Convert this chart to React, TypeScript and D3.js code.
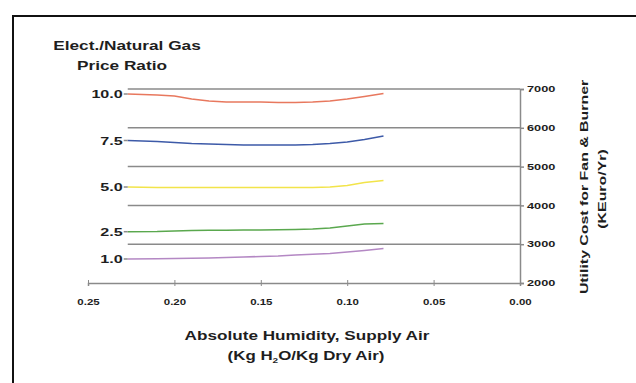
import React, { useEffect, useRef } from "react";
import * as d3 from "d3";

// absolute humidity (kg H2O / kg dry air)
const humidity = [0.227, 0.21, 0.2, 0.19, 0.18, 0.17, 0.16, 0.15, 0.14, 0.13, 0.12, 0.11, 0.1, 0.09, 0.079];

const ratioLabels = ["10.0", "7.5", "5.0", "2.5", "1.0"];
const seriesColors = ["#e8785e", "#3d5aa8", "#f2e44a", "#5aa84e", "#b488c4"];

// utility cost (KEuro/Yr) for each price ratio
const cost100 = [6871, 6845, 6820, 6742, 6691, 6665, 6665, 6665, 6652, 6652, 6665, 6691, 6742, 6807, 6884];
const cost75 = [5673, 5647, 5621, 5595, 5582, 5570, 5557, 5557, 5557, 5557, 5570, 5595, 5634, 5698, 5789];
const cost50 = [4474, 4461, 4461, 4461, 4461, 4461, 4461, 4461, 4461, 4461, 4461, 4474, 4513, 4590, 4642];
const cost25 = [3322, 3327, 3340, 3353, 3358, 3361, 3366, 3366, 3371, 3379, 3392, 3418, 3469, 3521, 3534];
const cost10 = [2619, 2624, 2631, 2637, 2644, 2657, 2670, 2683, 2696, 2722, 2740, 2760, 2799, 2838, 2889];

const xTicks = [0.25, 0.2, 0.15, 0.1, 0.05, 0];
const yTicks = [2000, 3000, 4000, 5000, 6000, 7000];
const gridValues = [3000, 4000, 5000, 6000, 7000];

const App = () => {
  const ref = useRef<SVGSVGElement>(null);

  useEffect(() => {
    const svg = d3.select(ref.current);
    svg.selectAll("*").remove();

    const width = 636;
    const height = 383;
    const font = "Liberation Sans, Arial, sans-serif";
    const ink = "#1e1e1e";

    svg.attr("width", width).attr("height", height);

    // the original lettering is wide and heavy, so stretch text to its measured width
    const stretch = (sel: any, factor: number) =>
      sel.each(function (this: SVGTextElement) {
        const w = this.getComputedTextLength();
        d3.select(this).attr("textLength", w * factor).attr("lengthAdjust", "spacingAndGlyphs");
      });

    const x = d3.scaleLinear().domain([0.25, 0]).range([88, 520]);
    const y = d3.scaleLinear().domain([2000, 7000]).range([283, 89]);

    // outer frame
    svg
      .append("rect")
      .attr("x", 13)
      .attr("y", 16)
      .attr("width", 700)
      .attr("height", 500)
      .attr("fill", "none")
      .attr("stroke", "#111")
      .attr("stroke-width", 2);

    // gridlines
    svg
      .append("g")
      .selectAll("line")
      .data(gridValues)
      .enter()
      .append("line")
      .attr("x1", x(humidity[0]))
      .attr("x2", x(0))
      .attr("y1", (d) => y(d))
      .attr("y2", (d) => y(d))
      .attr("stroke", "#8a8a8a")
      .attr("stroke-width", 1.5);

    // X axis
    const gx = svg
      .append("g")
      .attr("transform", `translate(0,${y(2000)})`)
      .call(d3.axisBottom(x).tickValues(xTicks).tickSize(3).tickFormat(d3.format(".2f")));
    gx.select(".domain").attr("stroke", "#8a8a8a").attr("stroke-width", 1.5);
    gx.selectAll(".tick line").attr("stroke", "#8a8a8a").attr("y1", -3);
    const xt = gx
      .selectAll("text")
      .attr("y", 16)
      .attr("font-family", font)
      .attr("font-weight", "bold")
      .attr("font-size", 8.5)
      .attr("fill", ink);
    stretch(xt, 1.35);

    // Right Y axis
    const gy = svg
      .append("g")
      .attr("transform", `translate(${x(0)},0)`)
      .call(d3.axisRight(y).tickValues(yTicks).tickSize(4).tickFormat(d3.format("d")));
    gy.select(".domain").attr("stroke", "#8a8a8a").attr("stroke-width", 1.5);
    gy.selectAll(".tick line").attr("stroke", "#8a8a8a").attr("stroke-width", 1.5);
    const yt = gy
      .selectAll("text")
      .attr("x", 7)
      .attr("font-family", font)
      .attr("font-weight", "bold")
      .attr("font-size", 8.5)
      .attr("fill", ink);
    stretch(yt, 1.5);

    // series lines
    const series = [cost100, cost75, cost50, cost25, cost10];
    const line = d3
      .line<number>()
      .x((_, i) => x(humidity[i]))
      .y((d) => y(d));

    svg
      .append("g")
      .selectAll("path")
      .data(series)
      .enter()
      .append("path")
      .attr("d", (d) => line(d))
      .attr("fill", "none")
      .attr("stroke", (_, i) => seriesColors[i])
      .attr("stroke-width", 1.6);

    // ratio labels on the left
    const labels = svg.append("g");
    series.forEach((s, i) => {
      const ly = y(s[0]);
      labels
        .append("line")
        .attr("x1", x(humidity[0]) - 4)
        .attr("x2", x(humidity[0]))
        .attr("y1", ly)
        .attr("y2", ly)
        .attr("stroke", "#8a8a8a")
        .attr("stroke-width", 1.5);
      const t = labels
        .append("text")
        .attr("x", x(humidity[0]) - 5)
        .attr("y", ly)
        .attr("dy", "0.35em")
        .attr("text-anchor", "end")
        .attr("font-family", font)
        .attr("font-weight", "bold")
        .attr("font-size", 11.5)
        .attr("fill", ink)
        .text(ratioLabels[i]);
      stretch(t, 1.4);
    });

    // left title
    const title = (tx: number, ty: number, size: number, str: string, factor: number) => {
      const t = svg
        .append("text")
        .attr("x", tx)
        .attr("y", ty)
        .attr("font-family", font)
        .attr("font-weight", "bold")
        .attr("font-size", size)
        .attr("fill", ink)
        .attr("text-anchor", "middle")
        .text(str);
      stretch(t, factor);
      return t;
    };
    title(127, 50, 12.5, "Elect./Natural Gas", 1.38);
    title(122, 70, 12.5, "Price Ratio", 1.38);

    // bottom title
    title(307, 340, 13.5, "Absolute Humidity, Supply Air", 1.27);
    const b2 = svg
      .append("text")
      .attr("x", 306)
      .attr("y", 360)
      .attr("font-family", font)
      .attr("font-weight", "bold")
      .attr("font-size", 13.5)
      .attr("fill", ink)
      .attr("text-anchor", "middle");
    b2.append("tspan").text("(Kg H");
    b2.append("tspan").attr("font-size", 8).attr("dy", 3).text("2");
    b2.append("tspan").attr("dy", -3).text("O/Kg Dry Air)");
    stretch(b2, 1.25);

    // right title
    const rt = svg.append("g").attr("transform", "rotate(-90)");
    const r1 = rt
      .append("text")
      .attr("x", -187)
      .attr("y", 588)
      .attr("font-family", font)
      .attr("font-weight", "bold")
      .attr("font-size", 11.5)
      .attr("fill", ink)
      .attr("text-anchor", "middle")
      .text("Utility Cost for Fan & Burner");
    stretch(r1, 1.38);
    const r2 = rt
      .append("text")
      .attr("x", -189)
      .attr("y", 606)
      .attr("font-family", font)
      .attr("font-weight", "bold")
      .attr("font-size", 11.5)
      .attr("fill", ink)
      .attr("text-anchor", "middle")
      .text("(KEuro/Yr)");
    stretch(r2, 1.38);
  }, []);

  return <svg ref={ref} style={{ position: "absolute", left: 0, top: 0 }}></svg>;
};

export default App;
